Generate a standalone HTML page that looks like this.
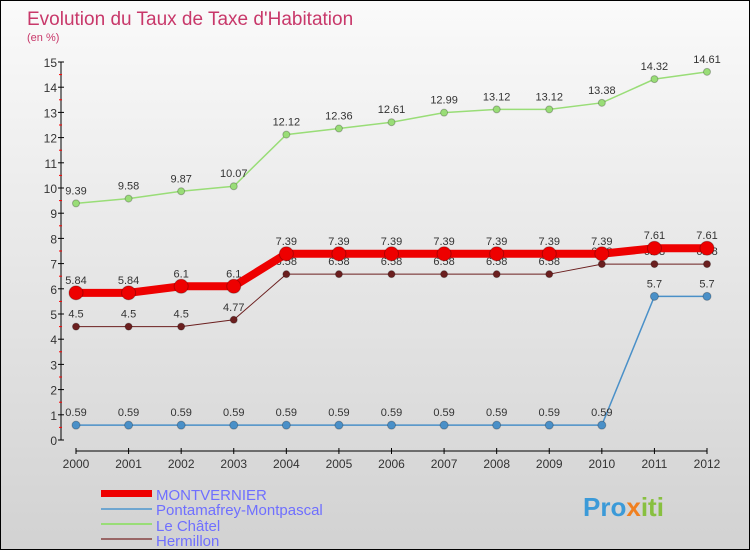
<!DOCTYPE html>
<html><head><meta charset="utf-8"><style>
html,body{margin:0;padding:0;}
body{width:750px;height:550px;overflow:hidden;}
#wrap{position:relative;width:748px;height:548px;border:1px solid #000;background:linear-gradient(#fafafa,#d2d2d2);font-family:"Liberation Sans",sans-serif;}
</style></head><body>
<div id="wrap">
<svg id="chart" width="748" height="548">
<text x="26" y="24" font-size="19" fill="#c8386a">Evolution du Taux de Taxe d'Habitation</text>
<text x="26" y="40" font-size="11" fill="#c8386a">(en %)</text>
<g id="axes"></g><g id="series"></g>
<g>
<rect x="100" y="489" width="51" height="7" fill="#e00"/>
<text x="155" y="499" font-size="15" fill="#6f6fff">MONTVERNIER</text>
<line x1="100" y1="508" x2="151" y2="508" stroke="#6fa6d0" stroke-width="2"/>
<text x="155" y="514" font-size="15" fill="#6f6fff">Pontamafrey-Montpascal</text>
<line x1="100" y1="523" x2="151" y2="523" stroke="#99dd77" stroke-width="2"/>
<text x="155" y="530" font-size="15" fill="#6f6fff">Le Châtel</text>
<line x1="100" y1="538" x2="151" y2="538" stroke="#996666" stroke-width="2"/>
<text x="155" y="545" font-size="15" fill="#6f6fff">Hermillon</text>
</g>
<text x="582" y="515" font-size="26" font-weight="bold" fill="#3b9ad8">Pro<tspan fill="#f08020">x</tspan><tspan fill="#88c040">iti</tspan></text>
</svg></div>
<script>
const years=[2000,2001,2002,2003,2004,2005,2006,2007,2008,2009,2010,2011,2012];
const montvernier=[5.84,5.84,6.1,6.1,7.39,7.39,7.39,7.39,7.39,7.39,7.39,7.61,7.61];
const pontamafrey=[0.59,0.59,0.59,0.59,0.59,0.59,0.59,0.59,0.59,0.59,0.59,5.7,5.7];
const lechatel=[9.39,9.58,9.87,10.07,12.12,12.36,12.61,12.99,13.12,13.12,13.38,14.32,14.61];
const hermillon=[4.5,4.5,4.5,4.77,6.58,6.58,6.58,6.58,6.58,6.58,6.98,6.98,6.98];
const yTicks=[0,1,2,3,4,5,6,7,8,9,10,11,12,13,14,15];
const NS='http://www.w3.org/2000/svg';
const x=i=>75+i*(631/(years.length-1));
const y=v=>439-v*25.2;
function mk(t,a,p){const e=document.createElementNS(NS,t);for(const k in a)e.setAttribute(k,a[k]);p.appendChild(e);return e;}
const ax=document.getElementById('axes');
let yl=mk('line',{x1:60,y1:y(15),x2:60,y2:y(0),stroke:'#000','stroke-width':1},ax);


yTicks.forEach(t=>{mk('line',{x1:57,y1:y(t),x2:63,y2:y(t),stroke:'#000'},ax);
 if(t<15)mk('line',{x1:58,y1:y(t+0.5),x2:61,y2:y(t+0.5),stroke:'#f00'},ax);
 const tx=mk('text',{x:56,y:y(t)+5,'font-size':12,'text-anchor':'end',fill:'#333'},ax);tx.textContent=t;
 
 });
let xl=mk('line',{x1:75,y1:450,x2:706,y2:450,stroke:'#000'},ax);


years.forEach((yr,i)=>{mk('line',{x1:x(i),y1:447,x2:x(i),y2:453,stroke:'#000'},ax);
 const tx=mk('text',{x:x(i),y:467,'font-size':12,'text-anchor':'middle',fill:'#333'},ax);tx.textContent=yr;
 
 });
const sg=document.getElementById('series');
function draw(name,vals,color,w,r){
 const g=mk('g',{},sg);
 
 
 const pl=mk('polyline',{points:vals.map((v,i)=>x(i)+','+y(v)).join(' '),fill:'none',stroke:color,'stroke-width':w},g);
 
 
 vals.forEach((v,i)=>{const c=mk('circle',{cx:x(i),cy:y(v),r:r,fill:color,stroke:'rgba(0,0,0,0.25)'},g);
  
  
  const t=mk('text',{x:x(i),y:y(v)-9,'font-size':11,'text-anchor':'middle',fill:'#333'},g);t.textContent=v;
  
  });
}
draw('le-chatel',lechatel,'#99dd77',1.5,3.5);
draw('hermillon',hermillon,'#6b1f1f',1,3.5);
draw('pontamafrey',pontamafrey,'#4a90c8',1.5,4);
draw('montvernier',montvernier,'#ee0000',8,7);
</script>
</body></html>
